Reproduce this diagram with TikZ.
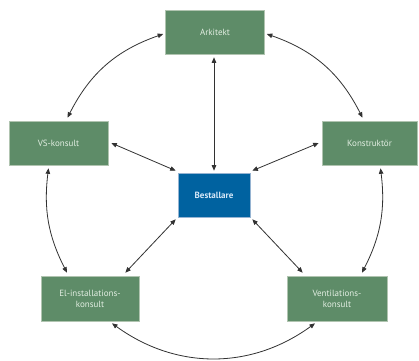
\documentclass[tikz,border=0pt]{standalone}
\usepackage{fontspec}
\setmainfont{PT Sans}
\usetikzlibrary{arrows.meta,calc}
\definecolor{boxgreen}{RGB}{94,140,104}
\definecolor{boxblue}{RGB}{0,98,160}
\definecolor{greentext}{RGB}{226,238,226}
\definecolor{bluetext}{RGB}{214,232,248}
\definecolor{linegray}{RGB}{50,50,50}
\begin{document}
\begin{tikzpicture}[x=1pt,y=-1pt,
  gbox/.style={rectangle,fill=boxgreen,draw={rgb,255:red,176;green,196;blue,176},line width=0.6pt,
    text=greentext,font=\fontsize{9}{11}\selectfont,align=center,inner sep=0pt,
    minimum width=99pt,minimum height=44pt},
  bbox/.style={rectangle,fill=boxblue,draw={rgb,255:red,150;green,180;blue,210},line width=0.6pt,
    text=bluetext,font=\fontsize{9}{11}\selectfont\bfseries,inner sep=0pt,
    minimum width=72pt,minimum height=44pt},
  link/.style={linegray,line width=0.8pt,{Triangle[length=5.5pt,width=4.5pt]}-{Triangle[length=5.5pt,width=4.5pt]}}]
\useasboundingbox (0,0) rectangle (419,360);
\fill[white] (0,0) rectangle (419,360);
\node[gbox] (ark) at (215,32) {Arkitekt};
\node[gbox] (vs) at (58.5,143) {VS-konsult};
\node[gbox,minimum width=95pt] (kon) at (369.5,143) {Konstruktör};
\node[bbox] (best) at (214,195) {Bestallare};
\node[gbox,minimum width=98pt,minimum height=45pt] (el) at (90,298.5) {El-installations-\\konsult};
\node[gbox,minimum width=100pt,minimum height=45pt] (vent) at (337,298.5) {Ventilations-\\konsult};
% outer arcs
\draw[link] ($(ark.west)+(-2,2)$) to[bend right=22] ($(vs.north)+(9,-3)$);
\draw[link] ($(ark.east)+(2,2)$) to[bend left=22] ($(kon.north)+(-7,-3)$);
\draw[link] ($(vs.south)+(-10,3)$) to[bend right=17] ($(el.north)+(-23,-3)$);
\draw[link] ($(kon.south)+(11,3)$) to[bend left=17] ($(vent.north)+(25,-3)$);
\draw[link] ($(el.south)+(22,2)$) to[bend right=36] ($(vent.south)+(-22,2)$);
% spokes
\draw[link] ($(best.north)+(0,-2)$) -- ($(ark.south)+(-1,3)$);
\draw[link] ($(best.north west)+(-2,-2)$) -- ($(vs.east)+(3,0)$);
\draw[link] ($(best.north east)+(2,-2)$) -- ($(kon.west)+(-3,0)$);
\draw[link] ($(best.south west)+(-2,2)$) -- ($(el.north east)+(-14,-3)$);
\draw[link] ($(best.south east)+(2,2)$) -- ($(vent.north west)+(16,-3)$);
\end{tikzpicture}
\end{document}
